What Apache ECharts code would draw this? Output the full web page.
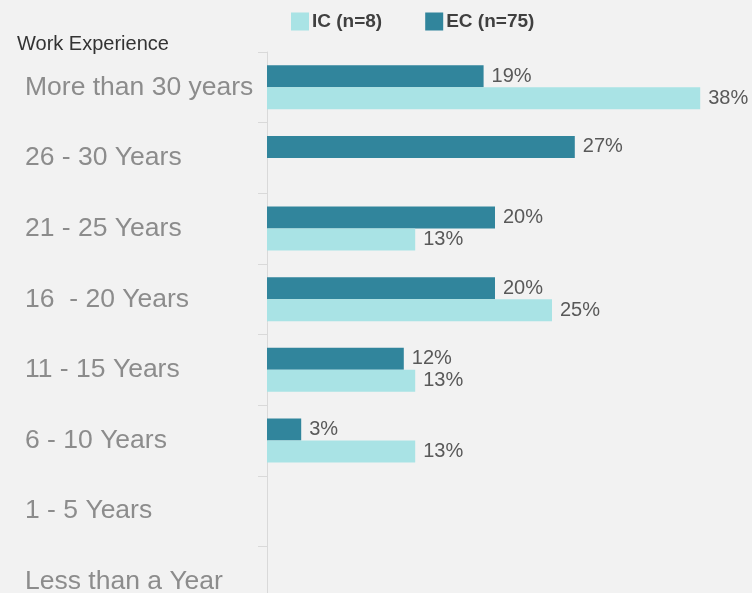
<!DOCTYPE html>
<html>
<head>
<meta charset="utf-8">
<script src="https://cdn.jsdelivr.net/npm/echarts@6/dist/echarts.min.js"></script>
<style>
  html, body { margin: 0; padding: 0; background: #f2f2f2; }
  #chart { width: 752px; height: 593px; }
</style>
</head>
<body>
<div id="chart"></div>
<script>
// Work experience groups, top to bottom
const categories = [
  'More than 30 years',
  '26 - 30 Years',
  '21 - 25 Years',
  '16  - 20 Years',
  '11 - 15 Years',
  '6 - 10 Years',
  '1 - 5 Years',
  'Less than a Year'
];
// Share of respondents (%), null where no bar is drawn
const ecValues = [19, 27, 20, 20, 12, 3, null, null];
const icValues = [38, null, 13, 25, 13, 13, null, null];
const seriesNames = ['IC (n=8)', 'EC (n=75)'];

const FONT = '"Liberation Sans", Arial, sans-serif';

const chart = echarts.init(document.getElementById('chart'), null, { renderer: 'canvas' });

const valueLabel = {
  show: true,
  position: 'right',
  distance: 8,
  fontFamily: FONT,
  fontSize: 20,
  color: '#595959',
  formatter: p => p.value + '%'
};

chart.setOption({
  backgroundColor: '#f2f2f2',
  animation: false,
  title: {
    text: 'Work Experience',
    left: 17,
    top: 34,
    padding: 0,
    textStyle: {
      fontFamily: FONT,
      fontSize: 20,
      fontWeight: 'normal',
      color: '#333333'
    }
  },
  legend: {
    data: seriesNames,
    left: 291,
    top: 12,
    padding: 0,
    icon: 'rect',
    itemWidth: 18,
    itemHeight: 18,
    itemGap: 43,
    textStyle: {
      fontFamily: FONT,
      fontSize: 19,
      fontWeight: 'bold',
      color: '#404040',
      padding: [0, 0, 0, -2]
    }
  },
  grid: {
    left: 267,
    top: 52,
    width: 456,
    height: 565,
    containLabel: false,
    outerBoundsMode: 'none'
  },
  xAxis: {
    type: 'value',
    min: 0,
    max: 40,
    show: false,
    splitLine: { show: false }
  },
  yAxis: {
    type: 'category',
    data: categories,
    inverse: true,
    axisLine: { show: true, lineStyle: { color: '#d9d9d9', width: 1 } },
    axisTick: { show: true, length: 9, lineStyle: { color: '#d9d9d9' } },
    axisLabel: {
      align: 'left',
      margin: 242,
      fontFamily: FONT,
      fontSize: 26.5,
      color: '#8c8c8c'
    }
  },
  series: [
    {
      name: 'EC (n=75)',
      type: 'bar',
      data: ecValues,
      barWidth: 22,
      barGap: '0%',
      itemStyle: { color: '#31859c' },
      label: valueLabel
    },
    {
      name: 'IC (n=8)',
      type: 'bar',
      data: icValues,
      barWidth: 22,
      barGap: '0%',
      itemStyle: { color: '#a9e3e5' },
      label: valueLabel
    }
  ]
});
</script>
</body>
</html>
